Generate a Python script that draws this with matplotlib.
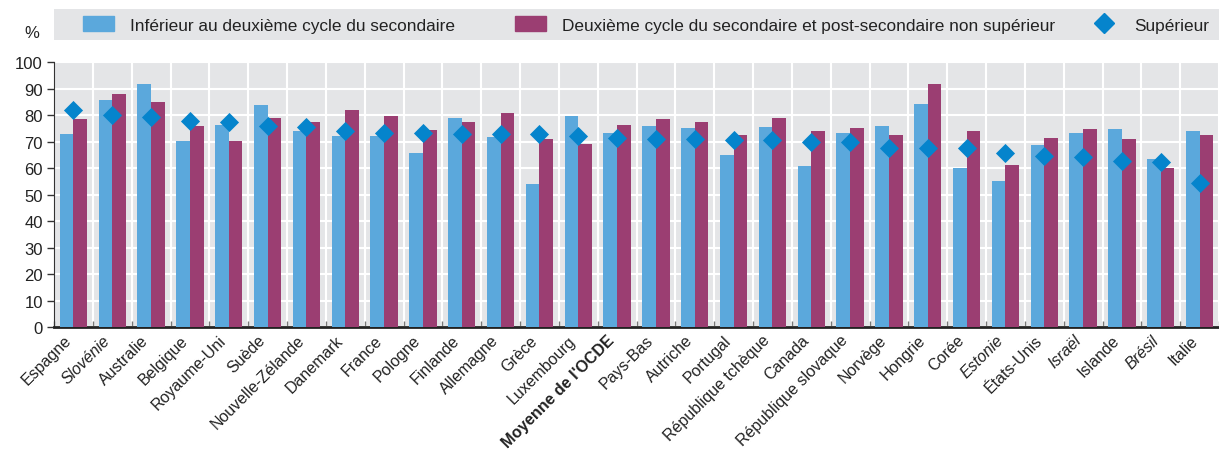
import numpy as np
import matplotlib.pyplot as plt
import matplotlib.transforms as mtransforms
from matplotlib.patches import Rectangle
from matplotlib.lines import Line2D

plt.rcParams['font.family'] = ['Liberation Sans', 'DejaVu Sans']

countries = ["Espagne", "Slovénie", "Australie", "Belgique", "Royaume-Uni", "Suède",
             "Nouvelle-Zélande", "Danemark", "France", "Pologne", "Finlande", "Allemagne",
             "Grèce", "Luxembourg", "Moyenne de l'OCDE", "Pays-Bas", "Autriche", "Portugal",
             "République tchèque", "Canada", "République slovaque", "Norvège", "Hongrie",
             "Corée", "Estonie", "États-Unis", "Israël", "Islande", "Brésil", "Italie"]
below_upper = [72.9, 85.8, 91.8, 70.2, 76.3, 83.9, 74.0, 72.1, 72.1, 65.7, 78.9, 71.8,
               54.0, 79.7, 73.3, 75.9, 75.2, 64.9, 75.5, 60.8, 73.3, 75.9, 84.2, 60.0,
               55.1, 68.7, 73.3, 74.8, 63.4, 74.0]
upper_sec = [78.6, 88.0, 85.0, 75.9, 70.2, 78.9, 77.4, 82.0, 79.7, 74.4, 77.4, 80.8,
             71.0, 69.1, 76.3, 78.6, 77.4, 72.5, 78.9, 74.0, 75.2, 72.5, 91.8, 74.0,
             61.2, 71.4, 74.8, 71.0, 60.0, 72.5]
tertiary = [82.0, 80.0, 79.2, 77.6, 77.2, 76.0, 75.4, 74.0, 73.1, 73.1, 73.0, 72.9,
            72.8, 72.1, 71.5, 71.1, 70.9, 70.7, 70.5, 69.9, 69.7, 67.7, 67.7, 67.6,
            65.6, 64.7, 64.3, 62.8, 62.4, 54.5]
italic = ["Slovénie", "Estonie", "Israël", "Brésil"]
bold = ["Moyenne de l'OCDE"]

c_blue = "#5ba8dc"
c_purple = "#9b3e72"
c_diam = "#0584cc"
c_bg = "#e4e5e7"
c_text = "#222222"

fig = plt.figure(figsize=(12.19, 4.56), dpi=100)
ax = fig.add_axes([0.0443, 0.2807, 0.9557, 0.5811])
ax.set_facecolor(c_bg)

x = np.arange(len(countries))
w = 0.35
ax.bar(x - w / 2, below_upper, width=w, color=c_blue, zorder=3)
ax.bar(x + w / 2, upper_sec, width=w, color=c_purple, zorder=3)
ax.scatter(x, tertiary, marker="D", s=95, color=c_diam, zorder=4, linewidths=0)

ax.set_xlim(-0.5, len(countries) - 0.5)
ax.set_ylim(0, 100)
ax.set_yticks(np.arange(0, 101, 10))
ax.tick_params(axis="y", labelsize=12, length=5, width=1, color="#333333", pad=3,
               labelcolor=c_text)
ax.set_xticks(x)
ax.set_xticks(np.arange(-0.5, len(countries), 1), minor=True)
ax.tick_params(axis="x", which="major", length=0, pad=3, labelcolor=c_text)
ax.tick_params(axis="x", which="minor", direction="in", length=4, color="#777777", width=1)
ax.set_xticklabels(countries, rotation=45, ha="right", va="top", rotation_mode="anchor",
                   fontsize=11.5)
shift = mtransforms.ScaledTranslation(-10 / 100, -1 / 100, fig.dpi_scale_trans)
for lab in ax.get_xticklabels():
    lab.set_transform(lab.get_transform() + shift)
    if lab.get_text() in italic:
        lab.set_style("italic")
    if lab.get_text() in bold:
        lab.set_weight("bold")

ax.grid(axis="y", color="white", linewidth=1.5, zorder=0)
ax.grid(axis="x", which="minor", color="white", linewidth=1.5, zorder=0)
ax.set_axisbelow(True)
for s in ["top", "right"]:
    ax.spines[s].set_visible(False)
ax.spines["left"].set_color("#333333")
ax.spines["bottom"].set_color("#222222")
ax.spines["bottom"].set_linewidth(2)

fig.text(32 / 1219, 1 - 33 / 456, "%", fontsize=12, ha="center", va="center", color=c_text)

# legend band
fig.patches.append(Rectangle((54 / 1219, 1 - 41 / 456), 1 - 54 / 1219, 31 / 456,
                             transform=fig.transFigure, facecolor=c_bg, edgecolor="none",
                             zorder=0))
handles = [Rectangle((0, 0), 1, 1, color=c_blue),
           Rectangle((0, 0), 1, 1, color=c_purple),
           Line2D([], [], marker="D", color=c_diam, linestyle="none", markersize=10)]
labels = ["Inférieur au deuxième cycle du secondaire",
          "Deuxième cycle du secondaire et post-secondaire non supérieur",
          "Supérieur"]
starts = [83, 515, 1088]
for h, l, s in zip(handles, labels, starts):
    fig.legend([h], [l], loc="center left", bbox_to_anchor=(s / 1219, 1 - 25.5 / 456),
               frameon=False, fontsize=12.4, handlelength=1.8, handleheight=0.9,
               handletextpad=0.9, borderpad=0, borderaxespad=0, labelcolor=c_text)

fig.savefig("out.png", dpi=100)
